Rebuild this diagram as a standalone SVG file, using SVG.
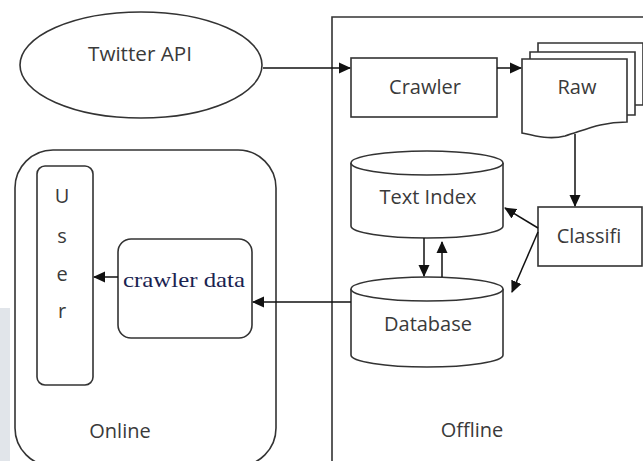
<svg xmlns="http://www.w3.org/2000/svg" width="643" height="461" viewBox="0 0 643 461">
<defs>
<marker id="ah" markerUnits="userSpaceOnUse" markerWidth="12" markerHeight="12" viewBox="0 0 12 12" refX="11" refY="6" orient="auto">
<path d="M0,0.5 L12,6 L0,11.5 Z" fill="#111"/>
</marker>
<style>
.s{fill:#fff;stroke:#333;stroke-width:1.6}
.n{fill:none;stroke:#333;stroke-width:1.6}
.t{font-family:"Open Sans","Noto Sans",sans-serif;font-size:20px;fill:#3a3a3a;text-anchor:middle}
.c{fill:none;stroke:#111;stroke-width:1.5;marker-end:url(#ah)}
</style>
</defs>
<rect width="643" height="461" fill="#fff"/>
<rect x="0" y="308" width="10" height="153" fill="#e1e5ea"/>

<g id="offline">
<path class="n" d="M332,461 L332,17 L643,17"/>
<text class="t" x="472" y="437">Offline</text>
</g>

<g id="online">
<rect class="n" x="15" y="150" width="261" height="316" rx="38"/>
<text class="t" x="120" y="438">Online</text>
</g>

<g id="twitter">
<ellipse class="s" cx="141" cy="65" rx="121" ry="53"/>
<text class="t" x="140" y="61" textLength="104" lengthAdjust="spacingAndGlyphs">Twitter API</text>
</g>

<g id="crawler">
<rect class="s" x="351" y="58" width="146" height="59"/>
<text class="t" x="425" y="94">Crawler</text>
</g>

<g id="raw">
<path class="s" d="M538,43 L643,43 L643,105 L538,105 Z"/>
<path class="s" d="M530,52 L635,52 L635,115 L530,115 Z"/>
<path class="s" d="M522,59 L627,59 L627,122 C600,122 585,130 565,136 C550,140 535,136 522,133 Z"/>
<text class="t" x="577" y="94">Raw</text>
</g>

<g id="classifi">
<rect class="s" x="538" y="207" width="104" height="59"/>
<text class="t" x="589" y="243">Classifi</text>
</g>

<g id="textindex">
<path class="s" d="M351,163 L351,226 A76,12 0 0 0 503,226 L503,163"/>
<ellipse class="s" cx="427" cy="163" rx="76" ry="12"/>
<text class="t" x="428" y="204">Text Index</text>
</g>

<g id="database">
<path class="s" d="M351,289 L351,355 A76,12 0 0 0 503,355 L503,289"/>
<ellipse class="s" cx="427" cy="289" rx="76" ry="12"/>
<text class="t" x="428" y="331">Database</text>
</g>

<g id="crawlerdata">
<rect class="s" x="118" y="239" width="134" height="99" rx="13"/>
<text x="184" y="287" font-family="'Liberation Serif',serif" font-size="22" fill="#1a2350" text-anchor="middle" textLength="122" lengthAdjust="spacingAndGlyphs">crawler data</text>
</g>

<g id="user">
<rect class="s" x="37" y="166" width="56" height="219" rx="8"/>
<g class="t">
<text x="62" y="203">U</text>
<text x="62" y="243">s</text>
<text x="62" y="281">e</text>
<text x="62" y="318">r</text>
</g>
</g>

<g id="connectors">
<path class="c" d="M263,68 L350,68"/>
<path class="c" d="M497,68 L521,68"/>
<path class="c" d="M575,134 L575,206"/>
<path class="c" d="M538,228 L505,208"/>
<path class="c" d="M538,232 L512,292"/>
<path class="c" d="M424,238 L424,276"/>
<path class="c" d="M442,277 L442,242"/>
<path class="c" d="M351,302 L253,302"/>
<path class="c" d="M118,277 L94,277"/>
</g>
</svg>
